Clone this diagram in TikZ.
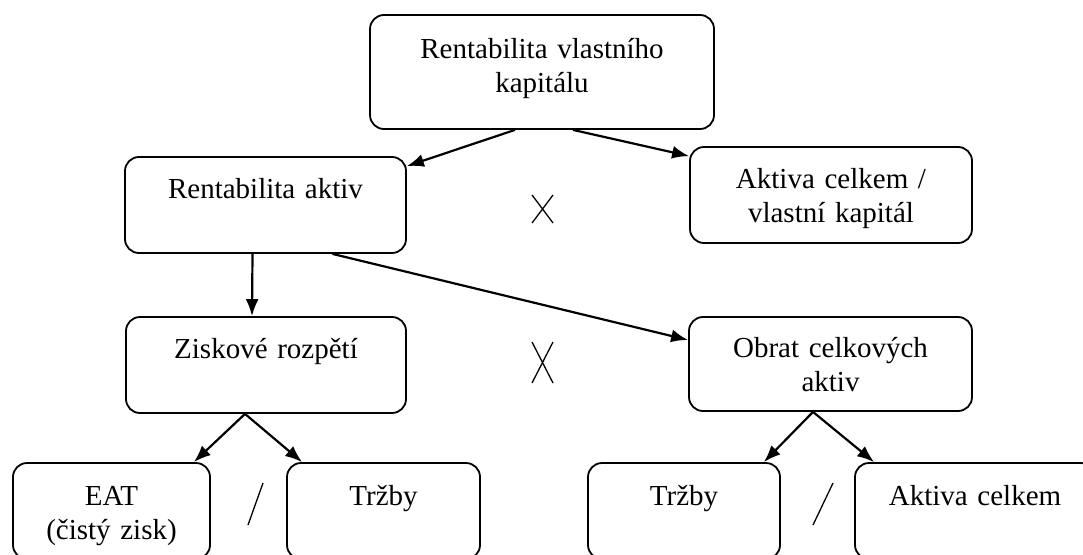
\documentclass[tikz,border=0pt]{standalone}
\usepackage{fontspec}
\setmainfont{Liberation Serif}
\usetikzlibrary{arrows.meta}

\tikzset{
  box/.style={draw, line width=1.8pt, rounded corners=14pt, inner sep=0pt,
    align=center, font=\fontsize{29}{34}\selectfont},
  conn/.style={line width=2.2pt, -{Latex[length=17pt,width=13pt]}},
  sign/.style={line width=1.3pt}
}

\begin{document}
\begin{tikzpicture}[x=1pt,y=-1pt]
    \clip (0,0) rectangle (1083,554);
    % boxes
    \node[box, text width=344pt, text height=43pt, text depth=71pt] (roe) at (542,72) {Rentabilita vlastního\\kapitálu};
    \node[box, text width=281pt, text height=41pt, text depth=55pt] (roa) at (265.5,205) {Rentabilita aktiv};
    \node[box, text width=282pt, text height=41pt, text depth=55pt] (fin) at (831,195) {Aktiva celkem /\\vlastní kapitál};
    \node[box, text width=280pt, text height=41pt, text depth=55pt] (ros) at (266,365) {Ziskové rozpětí};
    \node[box, text width=283pt, text height=40pt, text depth=54pt] (obr) at (830.5,364) {Obrat celkových\\aktiv};
    \node[box, text width=197pt, text height=42pt, text depth=54pt] (eat) at (111.5,511) {EAT\\(čistý zisk)};
    \node[box, text width=193pt, text height=42pt, text depth=54pt] (trz) at (383.5,511) {Tržby};
    \node[box, text width=192pt, text height=42pt, text depth=54pt] (trzb) at (684,511) {Tržby};
    \node[box, text width=240pt, text height=42pt, text depth=54pt] (akt) at (975,511) {Aktiva celkem};

    \path[conn]
    ([xshift=-27pt]roe.south) edge ([yshift=-10pt]roa.north east)
    ([xshift=31pt]roe.south) edge ([yshift=-10pt]fin.north west)
    ([xshift=-13pt]roa.south) edge ([xshift=-14pt]ros.north)
    ([xshift=67pt]roa.south) edge ([yshift=24pt]obr.west)
    ([xshift=-21pt]ros.south) edge ([xshift=-17pt]eat.north east)
    ([xshift=-21pt]ros.south) edge ([xshift=16pt]trz.north west)
    ([xshift=-17.5pt]obr.south) edge ([xshift=-17pt]trzb.north east)
    ([xshift=-17.5pt]obr.south) edge ([xshift=20pt]akt.north west);

    % signs
    \draw[sign] (532,195) -- (553,223) (553,195) -- (532,223);
    \draw[sign] (532,342) -- (553,383) (553,342) -- (532,383);
    \draw[sign] (248,525) -- (263,483);
    \draw[sign] (813,525) -- (833,483);
\end{tikzpicture}
\end{document}
